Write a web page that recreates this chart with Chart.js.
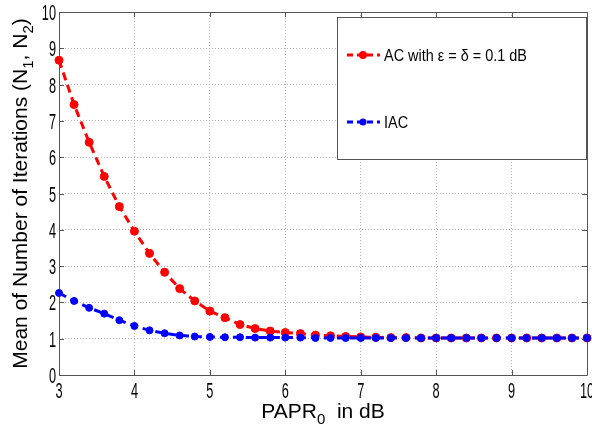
<!DOCTYPE html>
<html>
<meta charset="UTF-8">
<title>Mean of Number of Iterations</title>
<style type="text/css">
	html,
	body {
		margin: 0px;
		background: #ffffff;
	}
</style>
<script src="https://cdn.jsdelivr.net/npm/chart.js"></script>

<body>
	<canvas id="myChart" width="592" height="428"></canvas>

	<script>
		// PAPR_0 in dB
		var papr = [3, 3.2, 3.4, 3.6, 3.8, 4, 4.2, 4.4, 4.6, 4.8, 5, 5.2, 5.4, 5.6, 5.8, 6, 6.2, 6.4, 6.6, 6.8,
			7, 7.2, 7.4, 7.6, 7.8, 8, 8.2, 8.4, 8.6, 8.8, 9, 9.2, 9.4, 9.6, 9.8, 10];
		// AC with eps = delta = 0.1 dB
		var acIter = [8.67, 7.45, 6.41, 5.47, 4.64, 3.96, 3.35, 2.83, 2.38, 2.04, 1.76, 1.58, 1.39, 1.28, 1.21, 1.17,
			1.14, 1.10, 1.08, 1.06, 1.05, 1.04, 1.03, 1.03, 1.02, 1.02, 1.02, 1.02, 1.02, 1.02, 1.02, 1.02, 1.02, 1.02, 1.02, 1.02];
		// IAC
		var iacIter = [2.26, 2.04, 1.85, 1.69, 1.51, 1.35, 1.23, 1.15, 1.09, 1.06, 1.05, 1.04, 1.04, 1.03, 1.03, 1.03,
			1.03, 1.02, 1.02, 1.02, 1.02, 1.02, 1.02, 1.02, 1.02, 1.02, 1.02, 1.02, 1.02, 1.02, 1.02, 1.02, 1.02, 1.02, 1.02, 1.02];

		var seriesNames = ['AC with \u03b5 = \u03b4 = 0.1 dB', 'IAC'];
		var seriesColors = ['#ff0000', '#0000ff'];

		var xTickValues = [3, 4, 5, 6, 7, 8, 9, 10];
		var yTickValues = [0, 1, 2, 3, 4, 5, 6, 7, 8, 9, 10];

		// title pieces, second item of each pair is "subscript?"
		var xTitle = [['PAPR', false], ['0', true], ['  in dB', false]];
		var yTitle = [['Mean of Number of Iterations (N', false], ['1', true], [', N', false], ['2', true], [')', false]];

		var tickFont = '22px "Liberation Sans", Arial, sans-serif';
		var titleFont = '21px "Liberation Sans", Arial, sans-serif';
		var subFont = '15px "Liberation Sans", Arial, sans-serif';
		var legendFont = '17px "Liberation Sans", Arial, sans-serif';
		var frameColor = '#555555';

		function toPoints(ys) {
			return papr.map(function (x, i) { return { x: x, y: ys[i] }; });
		}

		// squeezed text, like the narrow matlab font
		function narrowText(ctx, text, x, y, align, sx) {
			ctx.save();
			ctx.translate(x, y);
			ctx.scale(sx, 1);
			ctx.textAlign = align;
			ctx.fillText(text, 0, 0);
			ctx.restore();
		}

		function partsWidth(ctx, parts) {
			var w = 0;
			parts.forEach(function (p) {
				ctx.font = p[1] ? subFont : titleFont;
				w += ctx.measureText(p[0]).width;
			});
			return w;
		}

		function drawParts(ctx, parts, cx, baseline) {
			var x = cx - partsWidth(ctx, parts) / 2;
			ctx.textAlign = 'left';
			ctx.textBaseline = 'alphabetic';
			parts.forEach(function (p) {
				ctx.font = p[1] ? subFont : titleFont;
				ctx.fillText(p[0], x, baseline + (p[1] ? 6 : 0));
				x += ctx.measureText(p[0]).width;
			});
		}

		var frame = {
			id: 'frame',
			beforeDatasetsDraw: function (chart) {
				var ctx = chart.ctx;
				var a = chart.chartArea;
				var xs = chart.scales.x, ys = chart.scales.y;
				ctx.save();
				ctx.strokeStyle = frameColor;
				ctx.lineWidth = 1;
				ctx.beginPath();
				ctx.rect(Math.round(a.left) + 0.5, Math.round(a.top) + 0.5,
					Math.round(a.right - a.left), Math.round(a.bottom - a.top));
				// inward ticks on all four sides
				xs.ticks.forEach(function (t) {
					var px = Math.round(xs.getPixelForValue(t.value)) + 0.5;
					ctx.moveTo(px, a.bottom); ctx.lineTo(px, a.bottom - 5);
					ctx.moveTo(px, a.top); ctx.lineTo(px, a.top + 5);
				});
				ys.ticks.forEach(function (t) {
					var py = Math.round(ys.getPixelForValue(t.value)) + 0.5;
					ctx.moveTo(a.left, py); ctx.lineTo(a.left + 5, py);
					ctx.moveTo(a.right, py); ctx.lineTo(a.right - 5, py);
				});
				ctx.stroke();
				ctx.restore();
			},
			afterDraw: function (chart) {
				var ctx = chart.ctx;
				var a = chart.chartArea;
				var xs = chart.scales.x, ys = chart.scales.y;
				ctx.save();
				ctx.fillStyle = '#000000';
				ctx.font = tickFont;
				ctx.textBaseline = 'alphabetic';
				xs.ticks.forEach(function (t) {
					narrowText(ctx, String(t.value), xs.getPixelForValue(t.value), a.bottom + 23, 'center', 0.58);
				});
				ys.ticks.forEach(function (t) {
					narrowText(ctx, String(t.value), a.left - 3, ys.getPixelForValue(t.value) + 8, 'right', 0.58);
				});

				// axis titles
				drawParts(ctx, xTitle, (a.left + a.right) / 2, 418);
				ctx.save();
				ctx.translate(27, (a.top + a.bottom) / 2);
				ctx.rotate(-Math.PI / 2);
				drawParts(ctx, yTitle, 0, 0);
				ctx.restore();

				// legend box
				var bx = 337, by = 17, bw = a.right - bx, bh = 142;
				ctx.fillStyle = '#ffffff';
				ctx.fillRect(bx, by, bw, bh);
				ctx.strokeStyle = frameColor;
				ctx.lineWidth = 1;
				ctx.strokeRect(bx + 0.5, by + 0.5, bw - 1, bh);
				var rows = [55, 122];
				chart.data.datasets.forEach(function (ds, i) {
					var y = rows[i];
					ctx.strokeStyle = ds.borderColor;
					ctx.lineWidth = 3;
					ctx.setLineDash([6, 4]);
					ctx.beginPath();
					ctx.moveTo(347, y);
					ctx.lineTo(380, y);
					ctx.stroke();
					ctx.setLineDash([]);
					ctx.fillStyle = ds.borderColor;
					ctx.beginPath();
					ctx.arc(363, y, ds.pointRadius, 0, Math.PI * 2);
					ctx.fill();
					ctx.fillStyle = '#000000';
					ctx.font = legendFont;
					ctx.textBaseline = 'middle';
					narrowText(ctx, ds.label, 384, y + 1, 'left', 0.85);
				});
				ctx.restore();
			}
		};

		var gridOpts = {
			color: '#b4b4b4',
			lineWidth: 1,
			drawTicks: false
		};

		var config = {
			type: 'line',
			data: {
				datasets: [
					{
						label: seriesNames[0],
						data: toPoints(acIter),
						borderColor: seriesColors[0],
						backgroundColor: seriesColors[0],
						pointBackgroundColor: seriesColors[0],
						pointBorderColor: seriesColors[0],
						borderWidth: 3,
						borderDash: [8, 5],
						pointRadius: 4,
						pointBorderWidth: 1,
						tension: 0,
						clip: false,
						order: 1
					},
					{
						label: seriesNames[1],
						data: toPoints(iacIter),
						borderColor: seriesColors[1],
						backgroundColor: seriesColors[1],
						pointBackgroundColor: seriesColors[1],
						pointBorderColor: seriesColors[1],
						borderWidth: 3,
						borderDash: [8, 5],
						pointRadius: 3.5,
						pointBorderWidth: 1,
						tension: 0,
						clip: false,
						order: 0
					}
				]
			},
			options: {
				responsive: false,
				devicePixelRatio: 1,
				animation: false,
				layout: { padding: { top: 12, right: 5, left: 0, bottom: 0 } },
				plugins: {
					legend: { display: false },
					tooltip: { enabled: false }
				},
				scales: {
					x: {
						type: 'linear',
						min: 3,
						max: 10,
						afterBuildTicks: function (s) { s.ticks = xTickValues.map(function (v) { return { value: v }; }); },
						afterFit: function (s) { s.height = 53; },
						ticks: { display: false },
						grid: gridOpts,
						border: { display: false, dash: [1, 2] }
					},
					y: {
						min: 0,
						max: 10,
						afterBuildTicks: function (s) { s.ticks = yTickValues.map(function (v) { return { value: v }; }); },
						afterFit: function (s) { s.width = 59; },
						ticks: { display: false },
						grid: gridOpts,
						border: { display: false, dash: [1, 2] }
					}
				}
			},
			plugins: [frame]
		};

		var myChart = new Chart(document.getElementById('myChart'), config);
	</script>
</body>

</html>
